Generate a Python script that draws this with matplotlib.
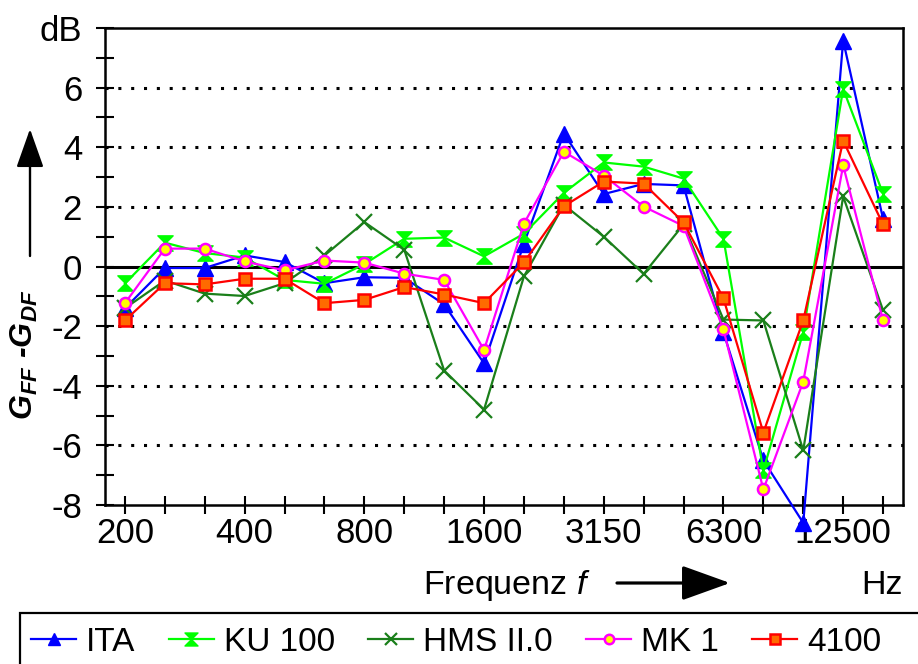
import matplotlib
matplotlib.use("Agg")
import matplotlib.pyplot as plt
from matplotlib.path import Path
from matplotlib.patches import Rectangle
import numpy as np

plt.rcParams['font.family'] = ['Liberation Sans', 'DejaVu Sans']
plt.rcParams['mathtext.fontset'] = 'custom'
plt.rcParams['mathtext.it'] = 'Liberation Sans:italic'
plt.rcParams['mathtext.bf'] = 'Liberation Sans:italic:bold'
plt.rcParams['mathtext.rm'] = 'Liberation Sans:italic:bold'

# Third-octave band centre frequencies (Hz)
bands = [200, 250, 315, 400, 500, 630, 800, 1000, 1250, 1600,
         2000, 2500, 3150, 4000, 5000, 6300, 8000, 10000, 12500, 16000]
labelled_bands = [200, 400, 800, 1600, 3150, 6300, 12500]

# Free-field minus diffuse-field gain difference per head (dB)
ita = [-1.4, -0.05, -0.05, 0.37, 0.15, -0.56, -0.36, -0.38, -1.27, -3.25,
       0.77, 4.46, 2.43, 2.77, 2.72, -2.2, -6.5, -8.6, 7.58, 1.6]
ku100 = [-0.57, 0.8, 0.45, 0.3, -0.45, -0.58, 0.08, 0.93, 0.97, 0.34,
         1.1, 2.47, 3.49, 3.35, 2.95, 0.93, -6.84, -2.2, 5.96, 2.44]
hms2 = [-1.4, -0.47, -0.91, -0.99, -0.56, 0.37, 1.49, 0.56, -3.49, -4.8,
        -0.33, 2.07, 1.0, -0.25, 1.41, -1.78, -1.81, -6.17, 2.35, -1.47]
mk1 = [-1.23, 0.6, 0.6, 0.17, -0.13, 0.2, 0.13, -0.24, -0.45, -2.8,
       1.44, 3.85, 3.05, 2.01, 1.36, -2.11, -7.48, -3.86, 3.39, -1.81]
b4100 = [-1.81, -0.56, -0.6, -0.41, -0.41, -1.23, -1.12, -0.69, -0.94, -1.23,
         0.14, 2.02, 2.85, 2.78, 1.48, -1.07, -5.57, -1.81, 4.22, 1.41]

series_names = ['ITA', 'KU 100', 'HMS II.0', 'MK 1', '4100']

# hourglass marker (two triangles tip to tip)
hourglass = Path([(-1, 1), (1, 1), (-1, -1), (1, -1), (-1, 1)],
                 [Path.MOVETO, Path.LINETO, Path.LINETO, Path.LINETO, Path.CLOSEPOLY])

styles = [
    dict(color='#0000ff', marker='^', ms=11, mfc='#0000ff', mec='#0000ff'),
    dict(color='#00ff00', marker=hourglass, ms=11, mfc='#00ff00', mec='#00ff00'),
    dict(color='#1a7f1a', marker='x', ms=11, mew=1.6, mfc='#1a7f1a', mec='#1a7f1a'),
    dict(color='#ff00ff', marker='o', ms=8, mfc='#ffff00', mec='#ff00ff', mew=1.8),
    dict(color='#ff0000', marker='s', ms=9, mfc='#ff6a00', mec='#ff0000', mew=1.8),
]

W, H = 918, 664
fig = plt.figure(figsize=(W / 100, H / 100), dpi=100)
ax = fig.add_axes([105 / W, 1 - 505 / H, 798 / W, 477 / H])

x = np.arange(len(bands))
handles = []
for vals, st, name in zip([ita, ku100, hms2, mk1, b4100], styles, series_names):
    ln, = ax.plot(x, vals, lw=1.6, label=name, clip_on=False, zorder=3, **st)
    handles.append(ln)

ax.set_xlim(-0.5, len(bands) - 0.5)
ax.set_ylim(-8, 8)

# grid and zero line
for yv in [-6, -4, -2, 2, 4, 6]:
    ax.axhline(yv, color='black', lw=2.2, ls=(0, (1, 3.2)), zorder=1)
ax.axhline(0, color='black', lw=2.2, zorder=2)

ax.set_xticks(x)
ax.set_xticklabels([str(b) if b in labelled_bands else '' for b in bands])
ax.set_yticks(np.arange(-8, 9, 2))
ax.set_yticklabels([str(v) for v in range(-8, 8, 2)] + ['dB'])
ax.set_yticks(np.arange(-7, 8, 2), minor=True)
ax.tick_params(axis='both', which='both', direction='inout', length=13,
               width=1.5, labelsize=25, color='black')
ax.tick_params(axis='y', pad=10)
ax.tick_params(axis='x', pad=2)
for s in ax.spines.values():
    s.set_linewidth(1.8)

# axis annotations
fig.text(24 / W, 1 - 355 / H, r'$\mathbf{G_{FF}}\ \text{-}\mathbf{G_{DF}}$', rotation=90,
         ha='center', va='center', fontsize=23)
ax.annotate('', xy=(30, H - 129), xytext=(30, H - 256), xycoords='figure pixels',
            textcoords='figure pixels',
            arrowprops=dict(arrowstyle='-|>,head_length=2.4,head_width=0.85',
                            lw=1.7, color='black', mutation_scale=10,
                            shrinkA=0, shrinkB=0))
fig.text(507 / W, 1 - 594 / H, r'Frequenz $\mathit{f}$', ha='center', va='baseline',
         fontsize=24.5)
ax.annotate('', xy=(730, H - 583), xytext=(617, H - 583), xycoords='figure pixels',
            textcoords='figure pixels',
            arrowprops=dict(arrowstyle='-|>,head_length=3.0,head_width=1.08',
                            lw=2.3, color='black', mutation_scale=10,
                            shrinkA=0, shrinkB=0))
fig.text(882 / W, 1 - 594 / H, 'Hz', ha='center', va='baseline', fontsize=24.5)

# legend box runs off the right and bottom edges
fig.patches.append(Rectangle((20, -20), 920, H - 613 + 20, transform=None,
                             fill=False, edgecolor='black', lw=1.6, clip_on=False))
leg = fig.legend(handles, series_names, loc='upper left',
                 bbox_to_anchor=(31 / W, 1 - 627 / H), frameon=False,
                 ncol=5, borderpad=0, borderaxespad=0, handlelength=1.35,
                 handletextpad=0.3, columnspacing=1.0, markerscale=0.85,
                 fontsize=24)

fig.savefig('out.png', dpi=100)
